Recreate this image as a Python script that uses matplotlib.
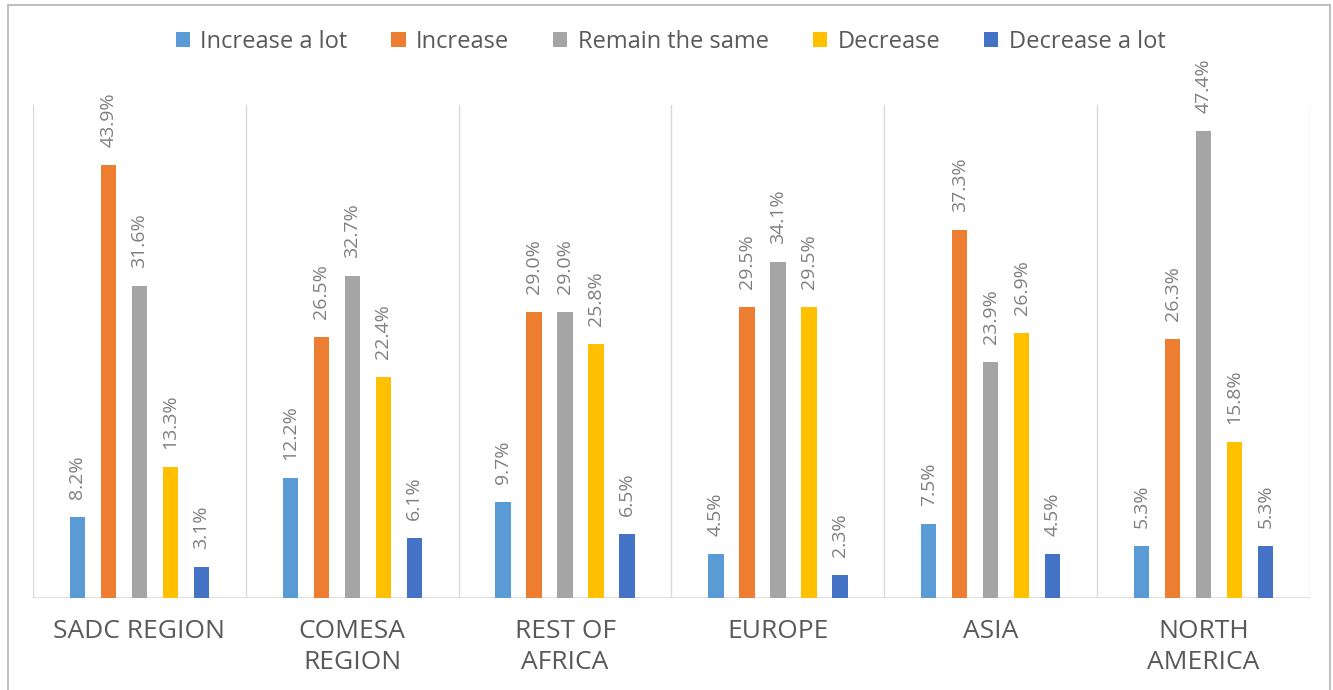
import matplotlib
matplotlib.use("Agg")
import matplotlib.pyplot as plt
import numpy as np
from matplotlib.patches import Rectangle

categories = ["SADC REGION", "COMESA\nREGION", "REST OF\nAFRICA", "EUROPE", "ASIA", "NORTH\nAMERICA"]
series_names = ["Increase a lot", "Increase", "Remain the same", "Decrease", "Decrease a lot"]
increase_a_lot = [8.2, 12.2, 9.7, 4.5, 7.5, 5.3]
increase = [43.9, 26.5, 29.0, 29.5, 37.3, 26.3]
remain_same = [31.6, 32.7, 29.0, 34.1, 23.9, 47.4]
decrease = [13.3, 22.4, 25.8, 29.5, 26.9, 15.8]
decrease_a_lot = [3.1, 6.1, 6.5, 2.3, 4.5, 5.3]
series_values = [increase_a_lot, increase, remain_same, decrease, decrease_a_lot]
colors = ["#5B9BD5", "#ED7D31", "#A5A5A5", "#FFC000", "#4472C4"]

plt.rcParams['font.family'] = ['Open Sans', 'DejaVu Sans']

fig = plt.figure(figsize=(13.33, 6.9), dpi=100)
ax = fig.add_axes([33/1333, 1 - 598/690, (1310 - 33)/1333, (598 - 105)/690])

x = np.arange(len(categories))
step = 0.1457
width = 0.072
for i, (name, vals, c) in enumerate(zip(series_names, series_values, colors)):
    pos = x + (i - 2) * step
    ax.bar(pos, vals, width=width, color=c, label=name, zorder=3)
    for xp, v in zip(pos, vals):
        ax.annotate(f"{v:.1f}%", (xp, v), xytext=(0, 13), textcoords="offset points",
                    rotation=90, ha="center", va="bottom", fontsize=14,
                    color="#7F7F7F", zorder=4)

ax.set_xlim(-0.5, len(categories) - 0.5)
ax.set_ylim(0, 50)
for k in range(len(categories) + 1):
    ax.axvline(k - 0.5, color="#D9D9D9", lw=1.0, zorder=1)
ax.axhline(0, color="#D9D9D9", lw=1.2, zorder=2)
for s in ax.spines.values():
    s.set_visible(False)
ax.set_yticks([])
ax.set_xticks(x)
ax.set_xticklabels(categories, fontsize=19, color="#595959", linespacing=1.3)
ax.tick_params(axis="x", length=0, pad=15)

fig.legend(loc="center", bbox_to_anchor=(0.503, 1 - 42/690), ncol=5, frameon=False,
           fontsize=17, handlelength=0.6, handleheight=0.6, handletextpad=0.45,
           columnspacing=1.85, labelcolor="#595959")

fig.patches.append(Rectangle((8/1333, -0.05), (1330 - 8)/1333, 1.05 - 5/690,
                             transform=fig.transFigure, fill=False,
                             edgecolor="#BFBFBF", lw=1.5))

fig.savefig("out.png", dpi=100)
